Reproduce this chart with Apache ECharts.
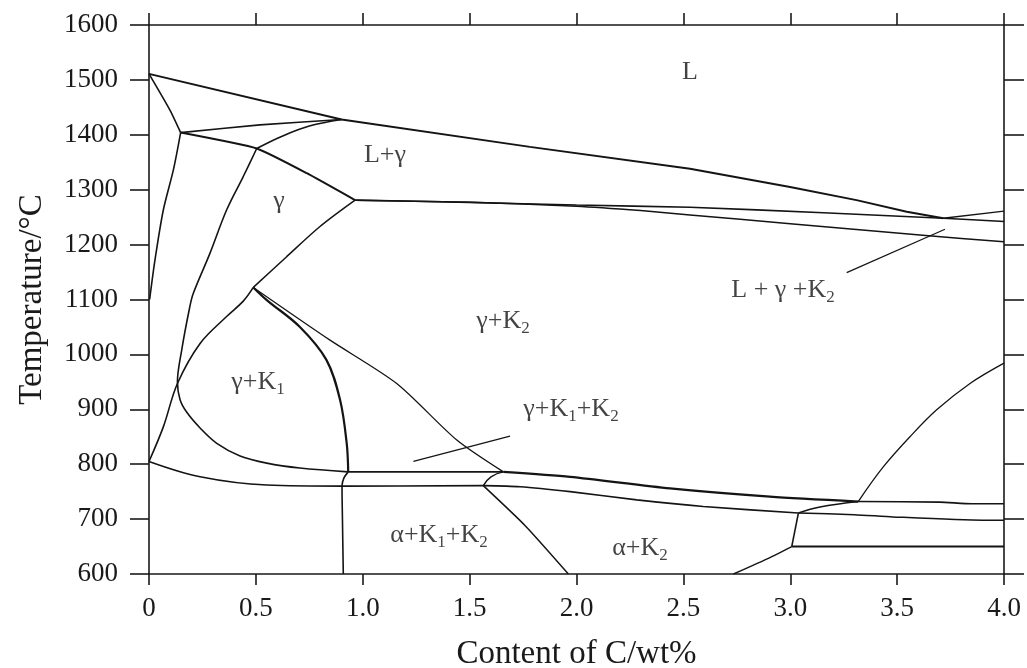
<!DOCTYPE html>
<html>
<head>
<meta charset="utf-8">
<script src="https://cdn.jsdelivr.net/npm/echarts@6/dist/echarts.min.js"></script>
<style>
  html, body { margin: 0; padding: 0; background: #fff; }
  #chart { width: 1027px; height: 668px; }
</style>
</head>
<body>
<div id="chart"></div>
<script>
// Fe–Cr–C isopleth: temperature (°C) versus carbon content (wt%)
const xTickLabels = ['0', '0.5', '1.0', '1.5', '2.0', '2.5', '3.0', '3.5', '4.0'];
const yTickLabels = ['600', '700', '800', '900', '1000', '1100', '1200', '1300', '1400', '1500', '1600'];

// phase boundaries, each as [C wt%, T °C]
const liquidus = [[0, 1511], [0.901, 1428], [1.782, 1378], [2.531, 1338], [2.999, 1305], [3.31, 1281], [3.545, 1260], [3.716, 1248]];
const liquidusTail = [[3.716, 1248], [4.0, 1261]];
const deltaLiquidus = [[0, 1511], [0.098, 1445], [0.148, 1404]];
const peritecticTop = [[0.148, 1404], [0.519, 1418], [0.901, 1428]];
const peritecticLow = [[0.148, 1404], [0.504, 1375], [0.738, 1330], [0.964, 1281]];
const solidusGamma = [[0.504, 1375], [0.62, 1397], [0.75, 1416], [0.901, 1428]];
const deltaGamma = [[0.148, 1404], [0.114, 1336], [0.067, 1263], [0.028, 1172], [0.003, 1100]];
const gammaK1Upper = [[0.504, 1375], [0.441, 1324], [0.363, 1263], [0.285, 1184], [0.207, 1111], [0.19, 1085], [0.153, 1008], [0.133, 950], [0.145, 918], [0.176, 895], [0.239, 866], [0.317, 838], [0.426, 815], [0.551, 802], [0.706, 793], [0.93, 786]];
const alphaGamma = [[0, 805], [0.067, 868], [0.133, 947], [0.239, 1020], [0.363, 1069], [0.441, 1097], [0.488, 1122]];
const k1Solvus = [[0.488, 1122], [0.551, 1099], [0.706, 1050], [0.83, 990], [0.894, 917], [0.925, 838], [0.932, 786]];
const gammaK2Left = [[0.488, 1122], [0.644, 1178], [0.8, 1233], [0.964, 1281]];
const k2Solvus = [[0.488, 1122], [0.847, 1026], [1.159, 947], [1.44, 844], [1.658, 786]];
const eutecticUpper = [[0.964, 1281], [1.5, 1277], [2.0, 1272], [2.531, 1268], [3.155, 1258], [3.716, 1248], [4.0, 1242]];
const eutecticLower = [[0.964, 1281], [1.5, 1277], [2.0, 1270], [2.3, 1262], [2.531, 1254], [3.0, 1238], [3.62, 1217], [4.0, 1205]];
const eutectoidTop = [[0.932, 786], [1.658, 786]];
const eutectoidTopRight = [[1.658, 786], [1.97, 777], [2.437, 756], [2.905, 741], [3.318, 732]];
const alphaLimit = [[0, 805], [0.239, 777], [0.551, 762], [0.908, 760], [1.564, 761]];
const eutectoidLow = [[1.564, 761], [1.736, 759], [1.97, 750], [2.282, 735], [2.593, 723], [3.038, 711]];
const cuspMid = [[1.564, 761], [1.6, 777], [1.658, 786]];
const alphaK2 = [[1.564, 761], [1.76, 688], [1.962, 600]];
const k1Vertical = [[0.932, 786], [0.912, 775], [0.903, 760], [0.905, 700], [0.909, 600]];
const cuspRight = [[3.038, 711], [3.139, 722], [3.318, 732]];
const line732 = [[3.318, 732], [3.7, 731], [3.85, 728], [4.0, 728]];
const line711 = [[3.038, 711], [3.3, 708], [3.48, 704], [3.9, 698], [4.0, 698]];
const stepRight = [[3.038, 711], [3.007, 650]];
const line650 = [[3.007, 650], [3.5, 650], [4.0, 650]];
const graphiteLow = [[2.734, 600], [2.905, 630], [3.007, 650]];
const graphiteCurve = [[3.318, 732], [3.435, 795], [3.56, 850], [3.685, 899], [3.841, 947], [4.0, 984]];
const pointerMid = [[1.237, 805], [1.689, 851]];
const pointerRight = [[3.264, 1149], [3.724, 1228]];

// phase field names ("_n" marks a subscript) and their anchor points
const fieldNames = ['L', 'L+γ', 'γ', 'γ+K_2', 'γ+K_1', 'γ+K_1+K_2', 'α+K_1+K_2', 'α+K_2', 'L + γ +K_2'];
const fieldAnchors = [[2.531, 1514], [1.104, 1363], [0.608, 1279], [1.656, 1061], [0.51, 950], [1.974, 901], [1.357, 671], [2.297, 647], [2.966, 1117]];

const FONT = 'Liberation Serif';
const INK = '#141414';

const boundaries = [
  { d: liquidus, w: 2.0 },
  { d: liquidusTail, w: 1.4 },
  { d: deltaLiquidus, w: 1.6, smooth: 0.2 },
  { d: peritecticTop, w: 1.6, smooth: 0.2 },
  { d: peritecticLow, w: 2.0, smooth: 0.15 },
  { d: solidusGamma, w: 1.6, smooth: 0.4 },
  { d: deltaGamma, w: 1.6, smooth: 0.3 },
  { d: gammaK1Upper, w: 1.6, smooth: 0.35 },
  { d: alphaGamma, w: 1.6, smooth: 0.35 },
  { d: k1Solvus, w: 2.2, smooth: 0.35 },
  { d: gammaK2Left, w: 1.5, smooth: 0.3 },
  { d: k2Solvus, w: 1.3, smooth: 0.25 },
  { d: eutecticUpper, w: 1.6, smooth: 0.2 },
  { d: eutecticLower, w: 1.5, smooth: 0.2 },
  { d: eutectoidTop, w: 1.6 },
  { d: eutectoidTopRight, w: 2.2, smooth: 0.25 },
  { d: alphaLimit, w: 1.6, smooth: 0.35 },
  { d: eutectoidLow, w: 1.6, smooth: 0.25 },
  { d: cuspMid, w: 1.5, smooth: 0.5 },
  { d: alphaK2, w: 1.5, smooth: 0.2 },
  { d: k1Vertical, w: 1.6, smooth: 0.3 },
  { d: cuspRight, w: 1.5, smooth: 0.4 },
  { d: line732, w: 1.6, smooth: 0.2 },
  { d: line711, w: 1.5, smooth: 0.2 },
  { d: stepRight, w: 1.6 },
  { d: line650, w: 2.0 },
  { d: graphiteLow, w: 1.4, smooth: 0.2 },
  { d: graphiteCurve, w: 1.3, smooth: 0.35 },
  { d: pointerMid, w: 1.2 },
  { d: pointerRight, w: 1.2 }
];

const series = boundaries.map(b => ({
  type: 'line',
  data: b.d,
  showSymbol: false,
  symbol: 'none',
  smooth: b.smooth || false,
  lineStyle: { color: INK, width: b.w },
  silent: true,
  z: 3
}));

const toRich = s => s.split(/(_\d)/).filter(p => p).map(p =>
  p[0] === '_' ? '{s|' + p.slice(1) + '}' : '{n|' + p + '}').join('');

series.push({
  type: 'scatter',
  symbolSize: 0,
  silent: true,
  data: fieldNames.map((n, i) => ({ name: n, value: fieldAnchors[i] })),
  label: {
    show: true,
    position: 'inside',
    formatter: p => toRich(p.name),
    rich: {
      n: { fontFamily: FONT, fontSize: 26, color: INK, lineHeight: 32, verticalAlign: 'middle' },
      s: { fontFamily: FONT, fontSize: 17, color: INK, lineHeight: 17, verticalAlign: 'bottom' }
    }
  },
  z: 4
});

const axisLine = { show: true, onZero: false, lineStyle: { color: '#1a1a1a', width: 1.6 } };
const tickStyle = { color: '#1a1a1a', width: 1.6 };

const chart = echarts.init(document.getElementById('chart'), null, { renderer: 'canvas' });
chart.setOption({
  backgroundColor: '#ffffff',
  animation: false,
  grid: { left: 149, right: 23, top: 25, bottom: 94, containLabel: false, outerBoundsMode: 'none' },
  xAxis: [
    {
      type: 'value', min: 0, max: 4, interval: 0.5, position: 'bottom',
      axisLine, splitLine: { show: false },
      axisTick: { show: true, inside: false, length: 11, lineStyle: tickStyle },
      axisLabel: {
        fontFamily: FONT, fontSize: 27, color: '#1a1a1a', margin: 21,
        formatter: v => xTickLabels[Math.round(v / 0.5)]
      },
      name: 'Content of C/wt%', nameLocation: 'middle', nameGap: 64,
      nameTextStyle: { fontFamily: FONT, fontSize: 33, color: '#1a1a1a' }
    },
    {
      type: 'value', min: 0, max: 4, interval: 0.5, position: 'top',
      axisLine, splitLine: { show: false },
      axisTick: { show: true, inside: false, length: 12, lineStyle: tickStyle },
      axisLabel: { show: false }
    }
  ],
  yAxis: [
    {
      type: 'value', min: 600, max: 1600, interval: 100, position: 'left',
      axisLine, splitLine: { show: false },
      axisTick: { show: true, inside: false, length: 19, lineStyle: tickStyle },
      axisLabel: {
        fontFamily: FONT, fontSize: 27, color: '#1a1a1a', margin: 31,
        formatter: v => yTickLabels[Math.round((v - 600) / 100)]
      },
      name: 'Temperature/°C', nameLocation: 'middle', nameGap: 100, nameRotate: 90,
      nameTextStyle: { fontFamily: FONT, fontSize: 33, color: '#1a1a1a' }
    },
    {
      type: 'value', min: 600, max: 1600, interval: 100, position: 'right',
      axisLine, splitLine: { show: false },
      axisTick: { show: true, inside: false, length: 20, lineStyle: tickStyle },
      axisLabel: { show: false }
    }
  ],
  series
});
</script>
</body>
</html>
